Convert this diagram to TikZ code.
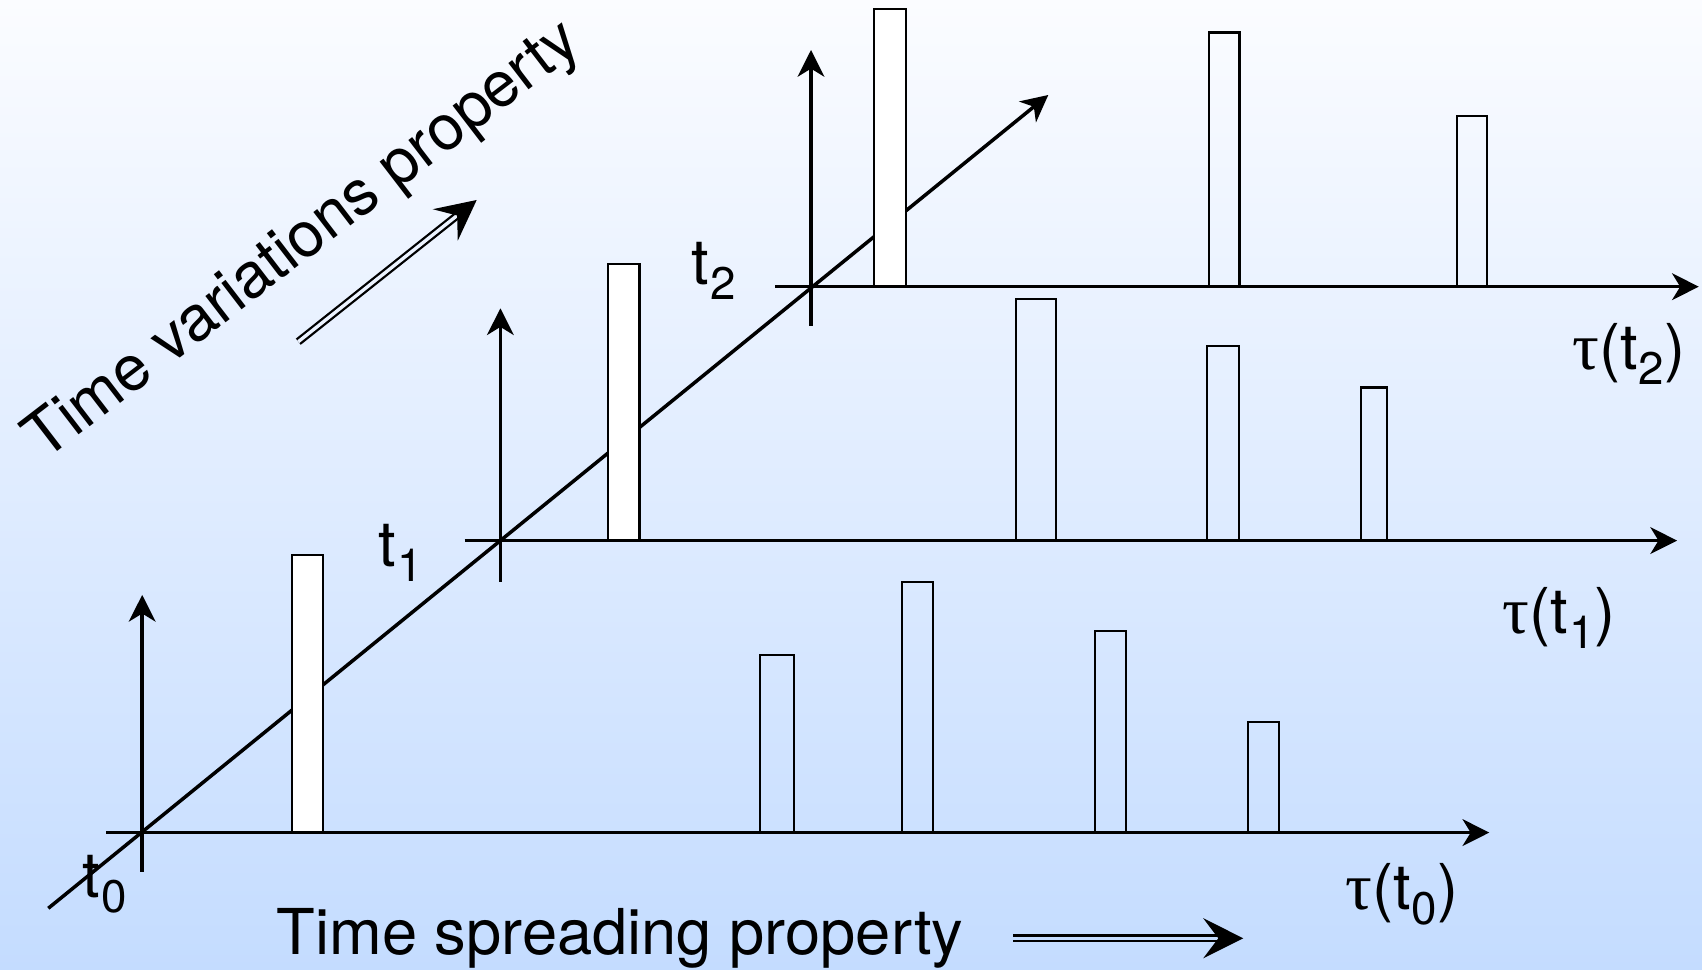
\documentclass[tikz,border=0pt]{standalone}
\usepackage{fontspec}
\setmainfont{TeX Gyre Heros}
\newfontfamily\taufont{Liberation Serif}
\usetikzlibrary{arrows.meta}

\definecolor{bgtop}{RGB}{251,252,255}
\definecolor{bgbot}{RGB}{196,220,255}

% lowered index after t, and the delay-axis captions
\newcommand\tsub[1]{\kern0.3pt\raisebox{-4.2pt}{\fontsize{13}{13}\selectfont #1}}
\newcommand\taulabel[1]{{\taufont\fontsize{19}{19}\selectfont τ}(t\tsub{#1})}

\begin{document}
\begin{tikzpicture}[>={Stealth[length=7.6pt,width=7.6pt,inset=2.3pt]}, line width=1pt,
  bar/.style={draw, line width=0.65pt},
  peak/.style={bar, fill=white},
  lbl/.style={inner sep=0pt, font=\fontsize{18}{18}\selectfont},
  hint/.style={double, line width=0.65pt, double distance=0.95pt,
    -{Stealth[length=11.4pt,width=11.4pt,inset=4.3pt]}}]
  \shade[top color=bgtop, bottom color=bgbot] (0,0) rectangle (17.02,9.70);
  \useasboundingbox (0,0) rectangle (17.02,9.70);

  % origins of the three delay axes
  \coordinate (o0) at (1.422,1.374);
  \coordinate (o1) at (5.004,4.294);
  \coordinate (o2) at (8.110,6.833);

  % time axis through the origins
  \coordinate (tstart) at (0.483,0.617);
  \coordinate (tend) at (10.483,8.750);
  \draw[->] (tstart) -- (tend);

  % taps at t0
  \draw[peak] (2.917,1.374) rectangle (3.227,4.153);
  \draw[bar] (7.600,1.374) rectangle (7.940,3.150);
  \draw[bar] (9.017,1.374) rectangle (9.333,3.877);
  \draw[bar] (10.953,1.374) rectangle (11.257,3.393);
  \draw[bar] (12.483,1.374) rectangle (12.787,2.481);
  % taps at t1
  \draw[peak] (6.079,4.294) rectangle (6.394,7.062);
  \draw[bar] (10.157,4.294) rectangle (10.560,6.710);
  \draw[bar] (12.073,4.294) rectangle (12.390,6.243);
  \draw[bar] (13.612,4.294) rectangle (13.873,5.825);
  % taps at t2
  \draw[peak] (8.743,6.833) rectangle (9.057,9.607);
  \draw[bar] (12.092,6.833) rectangle (12.396,9.374);
  \draw[bar] (14.567,6.833) rectangle (14.871,8.539);

  % delay and amplitude axes
  \draw[->] ([xshift=-0.358cm]o0) -- ([xshift=13.471cm]o0);
  \draw[->] ([yshift=-0.391cm]o0) -- ([yshift=2.377cm]o0);
  \draw[->] ([xshift=-0.358cm]o1) -- ([xshift=11.767cm]o1);
  \draw[->] ([yshift=-0.412cm]o1) -- ([yshift=2.323cm]o1);
  \draw[->] ([xshift=-0.360cm]o2) -- ([xshift=8.878cm]o2);
  \draw[->] ([yshift=-0.390cm]o2) -- ([yshift=2.367cm]o2);

  \node[lbl, anchor=base west] (lt0) at (0.810,0.720) {t\tsub{0}};
  \node[lbl, anchor=base west] (lt1) at (3.770,4.033) {t\tsub{1}};
  \node[lbl, anchor=base west] (lt2) at (6.900,6.850) {t\tsub{2}};
  \node[lbl, anchor=base east] (ltau0) at (14.600,0.600) {\taulabel{0}};
  \node[lbl, anchor=base east] (ltau1) at (16.175,3.360) {\taulabel{1}};
  \node[lbl, anchor=base east] (ltau2) at (16.870,6.000) {\taulabel{2}};

  % the two properties
  \node[lbl, anchor=base west] (spread) at (2.750,0.150) {Time spreading property};
  \node[lbl, rotate=37.5] (vary) at (3.040,7.280) {Time variations property};
  \coordinate (sa) at (10.133,0.317);
  \coordinate (sb) at (12.433,0.317);
  \draw[hint, double=bgbot] (sa) -- (sb);
  \coordinate (va) at (2.983,6.283);
  \coordinate (vb) at (4.767,7.700);
  \draw[hint, double=bgtop!72!bgbot] (va) -- (vb);
\end{tikzpicture}
\end{document}
